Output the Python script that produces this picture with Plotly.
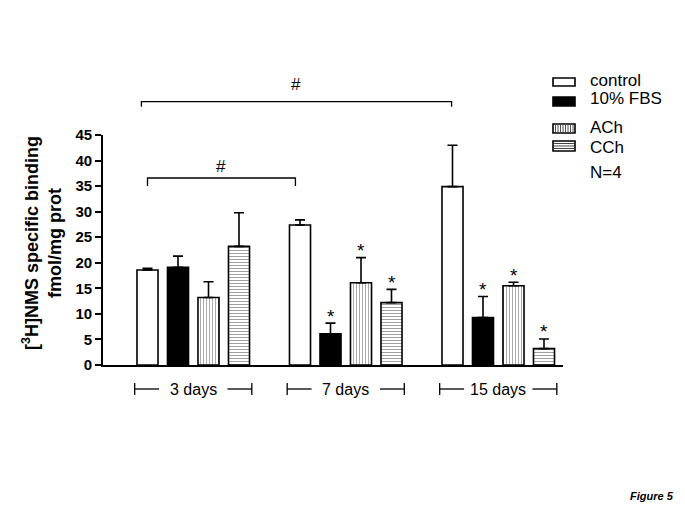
import plotly.graph_objects as go

# ---- data ----
groups = ["3 days", "7 days", "15 days"]
series = ["control", "10% FBS", "ACh", "CCh"]
control = [18.6, 27.4, 34.9]
control_err = [0.3, 1.0, 8.1]
fbs = [19.1, 6.1, 9.3]
fbs_err = [2.2, 2.1, 4.1]
ach = [13.2, 16.1, 15.5]
ach_err = [3.1, 4.9, 0.7]
cch = [23.2, 12.2, 3.2]
cch_err = [6.6, 2.6, 1.9]
control_sig = [False, False, False]
fbs_sig = [False, True, True]
ach_sig = [False, True, True]
cch_sig = [False, True, True]
y_ticks = [0, 5, 10, 15, 20, 25, 30, 35, 40, 45]

values = [control, fbs, ach, cch]
errors = [control_err, fbs_err, ach_err, cch_err]
sigs = [control_sig, fbs_sig, ach_sig, cch_sig]

# ---- layout geometry (page has 8px body margin) ----
OFF = 8
W, H = 685 - OFF, 513 - OFF
PLOT_L, PLOT_R, PLOT_T, PLOT_B = 103, 563, 135, 365  # page pixel coords
ML, MT = PLOT_L - OFF, PLOT_T - OFF
MR = 685 - PLOT_R
MB = 513 - PLOT_B
PW, PH = PLOT_R - PLOT_L, PLOT_B - PLOT_T


def px2x(px):
    return (px - PLOT_L) / PW


def px2y(py):
    return (PLOT_B - py) / PH


GROUP_STEP = 5
BAR_W = 0.69
FONT = "Liberation Sans, Arial, sans-serif"


def pos(g, s):
    return g * GROUP_STEP + s


styles = [
    dict(color="white"),
    dict(color="black"),
    dict(color="white", pattern=dict(shape="|", size=3, solidity=0.35, fgcolor="#555555", bgcolor="white")),
    dict(color="white", pattern=dict(shape="-", size=3, solidity=0.35, fgcolor="#444444", bgcolor="white")),
]

fig = go.Figure()
for s, name in enumerate(series):
    xs = [pos(g, s) for g in range(len(groups))]
    fig.add_trace(go.Bar(
        x=xs, y=values[s], width=[BAR_W] * len(xs), name=name,
        marker=dict(**styles[s], line=dict(color="black", width=1.6)),
        error_y=dict(type="data", array=errors[s], arrayminus=[0] * len(xs), symmetric=False,
                     color="black", thickness=1.6, width=5),
        showlegend=False,
    ))

annotations = []
shapes = []

# significance stars
for s in range(len(series)):
    for g in range(len(groups)):
        if sigs[s][g]:
            annotations.append(dict(x=pos(g, s), y=values[s][g] + errors[s][g], xref="x", yref="y",
                                    text="*", showarrow=False, yanchor="middle", yshift=7,
                                    font=dict(family=FONT, size=19, color="black")))

# group labels with brackets
for g, label in enumerate(groups):
    left = pos(g, 0) - 0.42
    right = pos(g, len(series) - 1) + 0.42
    center = (pos(g, 0) + pos(g, len(series) - 1)) / 2
    ymid = px2y(389)
    y0, y1 = px2y(383), px2y(395)
    for xa, xb in [(left, center - 1.12), (center + 1.12, right)]:
        shapes.append(dict(type="line", xref="x", yref="paper", x0=xa, x1=xb, y0=ymid, y1=ymid,
                           line=dict(color="black", width=1.3)))
    for xe in (left, right):
        shapes.append(dict(type="line", xref="x", yref="paper", x0=xe, x1=xe, y0=y0, y1=y1,
                           line=dict(color="black", width=1.3)))
    annotations.append(dict(x=center, y=ymid, xref="x", yref="paper", text=label, showarrow=False,
                            yanchor="middle", font=dict(family=FONT, size=16, color="black")))

# comparison brackets (#)
brackets = [
    (-0.2, 9.97, 101.7, 106.7, 85),
    (0.0, 4.85, 178.0, 186.0, 166.5),
]
for xa, xb, yl, yt, yh in brackets:
    shapes.append(dict(type="path", xref="x", yref="paper",
                       path=f"M {xa},{px2y(yt)} L {xa},{px2y(yl)} L {xb},{px2y(yl)} L {xb},{px2y(yt)}",
                       line=dict(color="black", width=1.3)))
    annotations.append(dict(x=(xa + xb) / 2, y=px2y(yh), xref="x", yref="paper", text="#",
                            showarrow=False, yanchor="middle",
                            font=dict(family=FONT, size=17, color="black")))

# manual legend
leg_boxes = [(78, 86), (97, 106), (124, 133), (141, 151)]
leg_text_y = [80, 98, 128, 147]
bx0, bx1 = 553, 575
for s, name in enumerate(series):
    ya, yb = leg_boxes[s]
    fill = "black" if s == 1 else "white"
    shapes.append(dict(type="rect", xref="paper", yref="paper", x0=px2x(bx0), x1=px2x(bx1),
                       y0=px2y(yb), y1=px2y(ya), fillcolor=fill, line=dict(color="black", width=1.6)))
    if s == 2:
        xp = bx0 + 2.5
        while xp < bx1 - 1:
            shapes.append(dict(type="line", xref="paper", yref="paper", x0=px2x(xp), x1=px2x(xp),
                               y0=px2y(yb - 1), y1=px2y(ya + 1), line=dict(color="#555555", width=1)))
            xp += 2.5
    if s == 3:
        yp = ya + 2.5
        while yp < yb - 1:
            shapes.append(dict(type="line", xref="paper", yref="paper", x0=px2x(bx0 + 1), x1=px2x(bx1 - 1),
                               y0=px2y(yp), y1=px2y(yp), line=dict(color="#444444", width=1)))
            yp += 2.5
    annotations.append(dict(x=px2x(588), y=px2y(leg_text_y[s]), xref="paper", yref="paper", text=name,
                            showarrow=False, xanchor="left", yanchor="middle",
                            font=dict(family=FONT, size=17, color="black")))
annotations.append(dict(x=px2x(588), y=px2y(172), xref="paper", yref="paper", text="N=4",
                        showarrow=False, xanchor="left", yanchor="middle",
                        font=dict(family=FONT, size=17, color="black")))

# y title
annotations.append(dict(x=px2x(42), y=px2y(243), xref="paper", yref="paper",
                        text="[<sup>3</sup>H]NMS specific binding<br>fmol/mg prot",
                        showarrow=False, textangle=-90, xanchor="center", yanchor="middle",
                        font=dict(family=FONT, size=18, color="black", weight="bold")))

# figure label
annotations.append(dict(x=px2x(652), y=px2y(496), xref="paper", yref="paper", text="Figure 5",
                        showarrow=False, xanchor="center", yanchor="middle",
                        font=dict(family=FONT, size=11, color="black", weight="bold", style="italic")))

x_lo = (PLOT_L - 147.5) / 30.5
x_hi = (PLOT_R - 147.5) / 30.5

fig.update_layout(
    width=W, height=H, autosize=False,
    margin=dict(l=ML, r=MR, t=MT, b=MB, pad=0),
    paper_bgcolor="white", plot_bgcolor="white",
    barmode="overlay",
    showlegend=False,
    xaxis=dict(range=[x_lo, x_hi], showline=True, linecolor="black", linewidth=1.6,
               showticklabels=False, ticks="", showgrid=False, zeroline=False),
    yaxis=dict(range=[0, 45], tickvals=y_ticks, ticks="outside", ticklen=6, tickwidth=1.5,
               tickcolor="black", showline=True, linecolor="black", linewidth=1.6,
               showgrid=False, zeroline=False,
               tickfont=dict(family=FONT, size=15, color="black", weight="bold")),
    shapes=shapes,
    annotations=annotations,
)

fig.write_html("out.html")
